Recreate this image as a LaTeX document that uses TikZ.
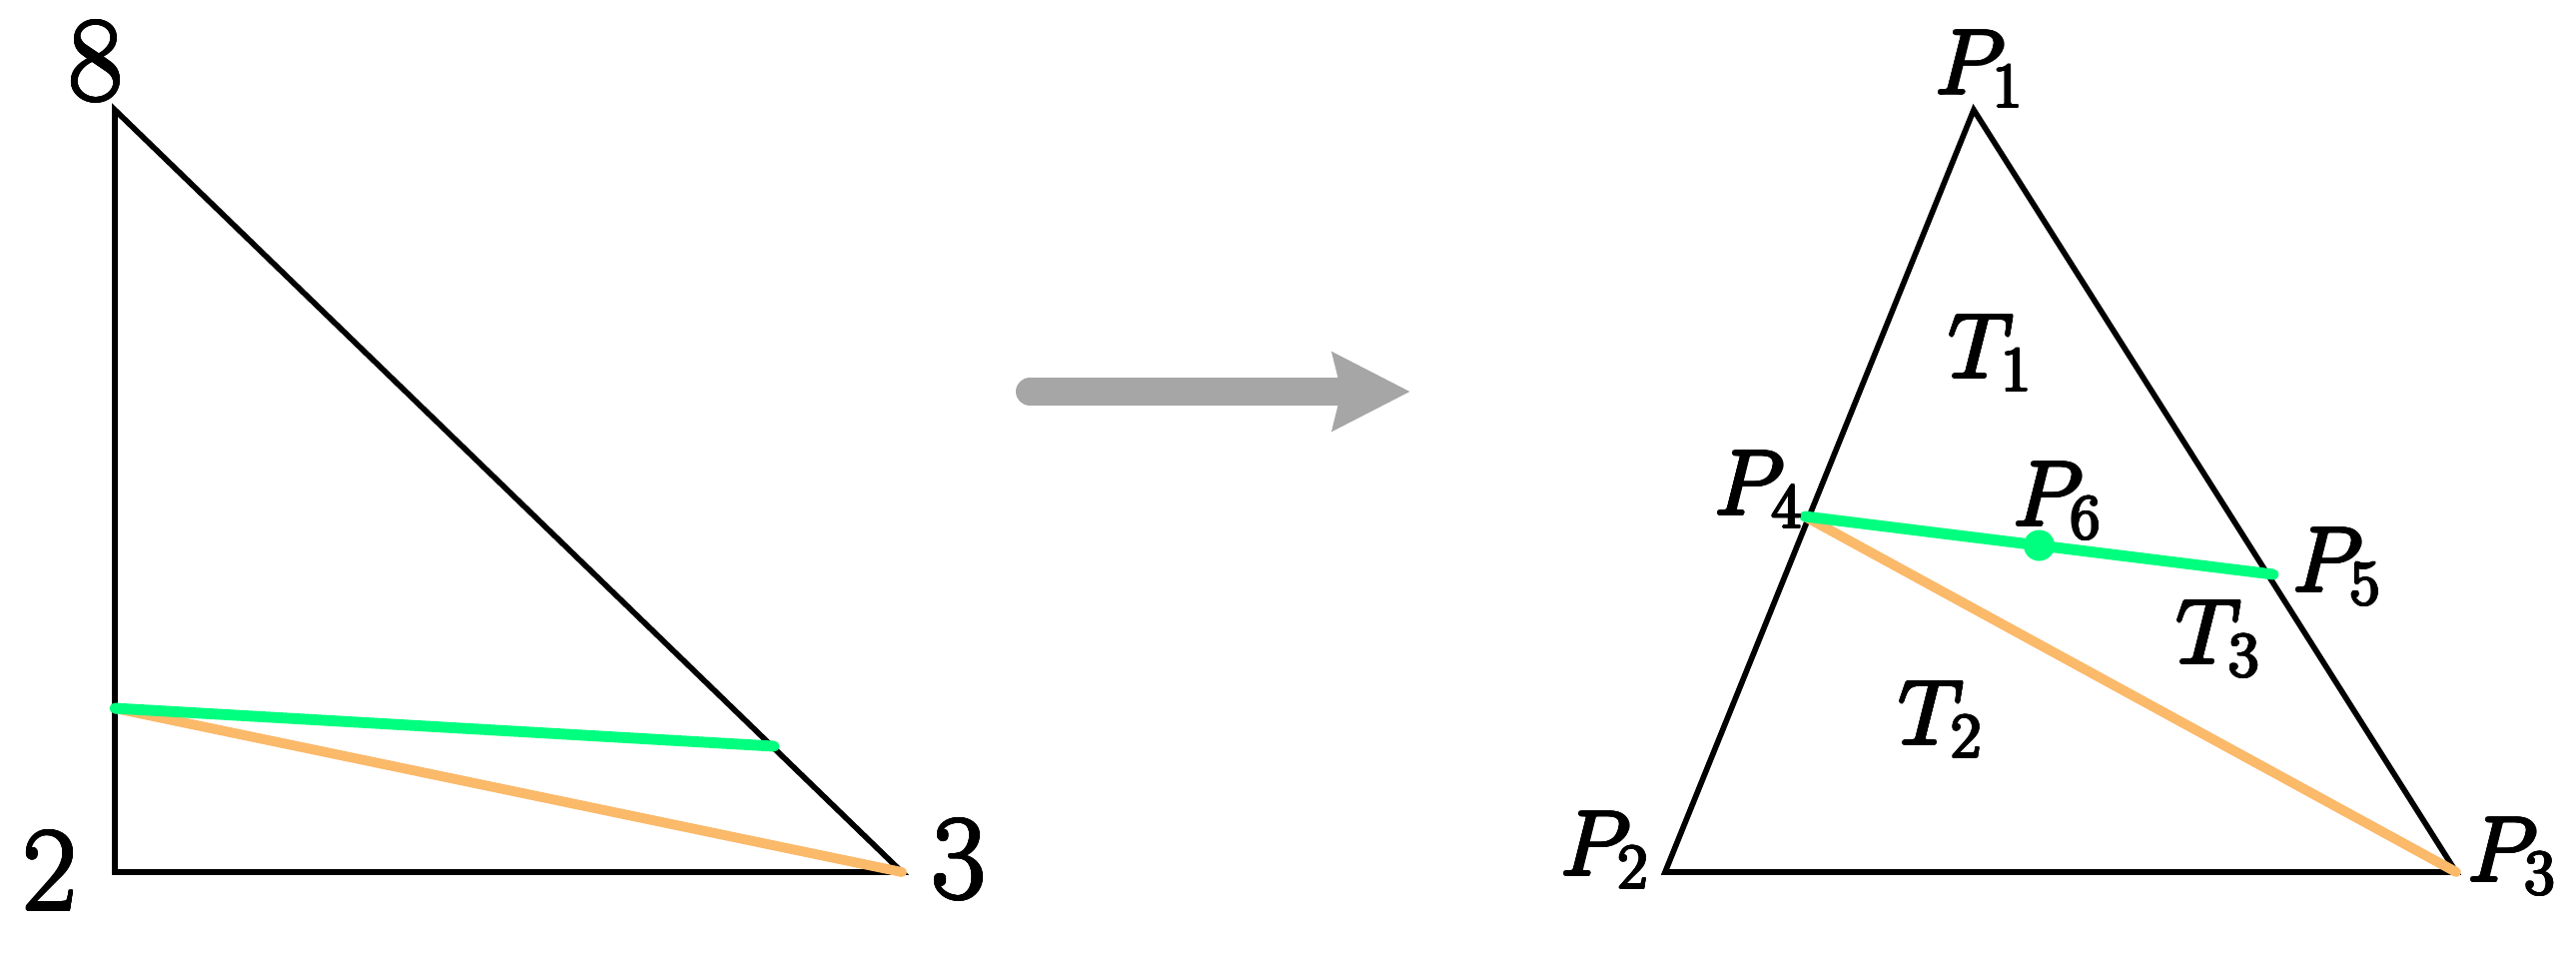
\RequirePackage{fix-cm}
\documentclass[tikz,border=0pt]{standalone}
\usepackage{amsmath}
\usepackage{contour}
\contourlength{0.4pt}
\usetikzlibrary{arrows.meta,calc}
\definecolor{cutgreen}{RGB}{0,255,127}
\definecolor{cutorange}{RGB}{251,185,106}
\definecolor{arrowgrey}{RGB}{166,166,166}
\newcommand{\heavy}[1]{\contour{black}{#1}}
\tikzstyle{side} = [draw,line width=1.6pt,line join=miter]
\tikzstyle{cut} = [line width=3.1pt,line cap=round,color=cutgreen]
\tikzstyle{diag} = [line width=2.8pt,line cap=round,color=cutorange]
\tikzstyle{vlabel} = [font=\fontsize{26}{30}\selectfont,inner sep=0pt]
\tikzstyle{nlabel} = [font=\fontsize{34}{40}\selectfont,inner sep=0pt]
\tikzstyle{middot} = [fill=cutgreen,shape=circle,inner sep=0pt,minimum size=0.31cm]

\begin{document}
\begin{tikzpicture}[x=0.01cm,y=-0.01cm]
\useasboundingbox (0,0) rectangle (2579,953);

% left triangle
\coordinate (a8) at (115,110);
\coordinate (a2) at (115,873);
\coordinate (a3) at (903,873);
\coordinate (ag) at (115,709);
\coordinate (ah) at (775,747);
\node[nlabel] (l8) at (96,62)  {\heavy{8}};
\node[nlabel] (l2) at (50,872) {\heavy{2}};
\node[nlabel] (l3) at (960,861) {\heavy{3}};

\draw[side] (a8) -- (a2) -- (a3) -- cycle;
\draw[diag] (ag) -- (a3);
\draw[cut]  (ag) -- (ah);

% arrow
\coordinate (s0) at (1031,392);
\coordinate (s1) at (1412,392);
\draw[arrowgrey,line width=0.28cm,line cap=round,
  -{Stealth[length=0.77cm,width=0.76cm,inset=0.08cm]}] (s0) -- (s1);

% right triangle
\coordinate (p1) at (1976,110);
\coordinate (p2) at (1667,873);
\coordinate (p3) at (2459,873);
\coordinate (p4) at (1807,517);
\coordinate (p5) at (2276,575);

\draw[side] (p1) -- (p2) -- (p3) -- cycle;
\draw[diag] (p4) -- (p3);
\draw[cut]  (p4) -- (p5);
\node[middot] (p6) at ($(p4)!0.5!(p5)$) {};

\node[vlabel] (lp1) at (1982,70)  {\heavy{$P_1$}};
\node[vlabel] (lp2) at (1607,852) {\heavy{$P_2$}};
\node[vlabel] (lp3) at (2515,858) {\heavy{$P_3$}};
\node[vlabel] (lp4) at (1761,491) {\heavy{$P_4$}};
\node[vlabel] (lp5) at (2340,568) {\heavy{$P_5$}};
\node[vlabel] (lp6) at (2060,502) {\heavy{$P_6$}};
\node[vlabel] (lt1) at (1993,354) {\heavy{$T_1$}};
\node[vlabel] (lt2) at (1943,721) {\heavy{$T_2$}};
\node[vlabel] (lt3) at (2221,640) {\heavy{$T_3$}};
\end{tikzpicture}
\end{document}
